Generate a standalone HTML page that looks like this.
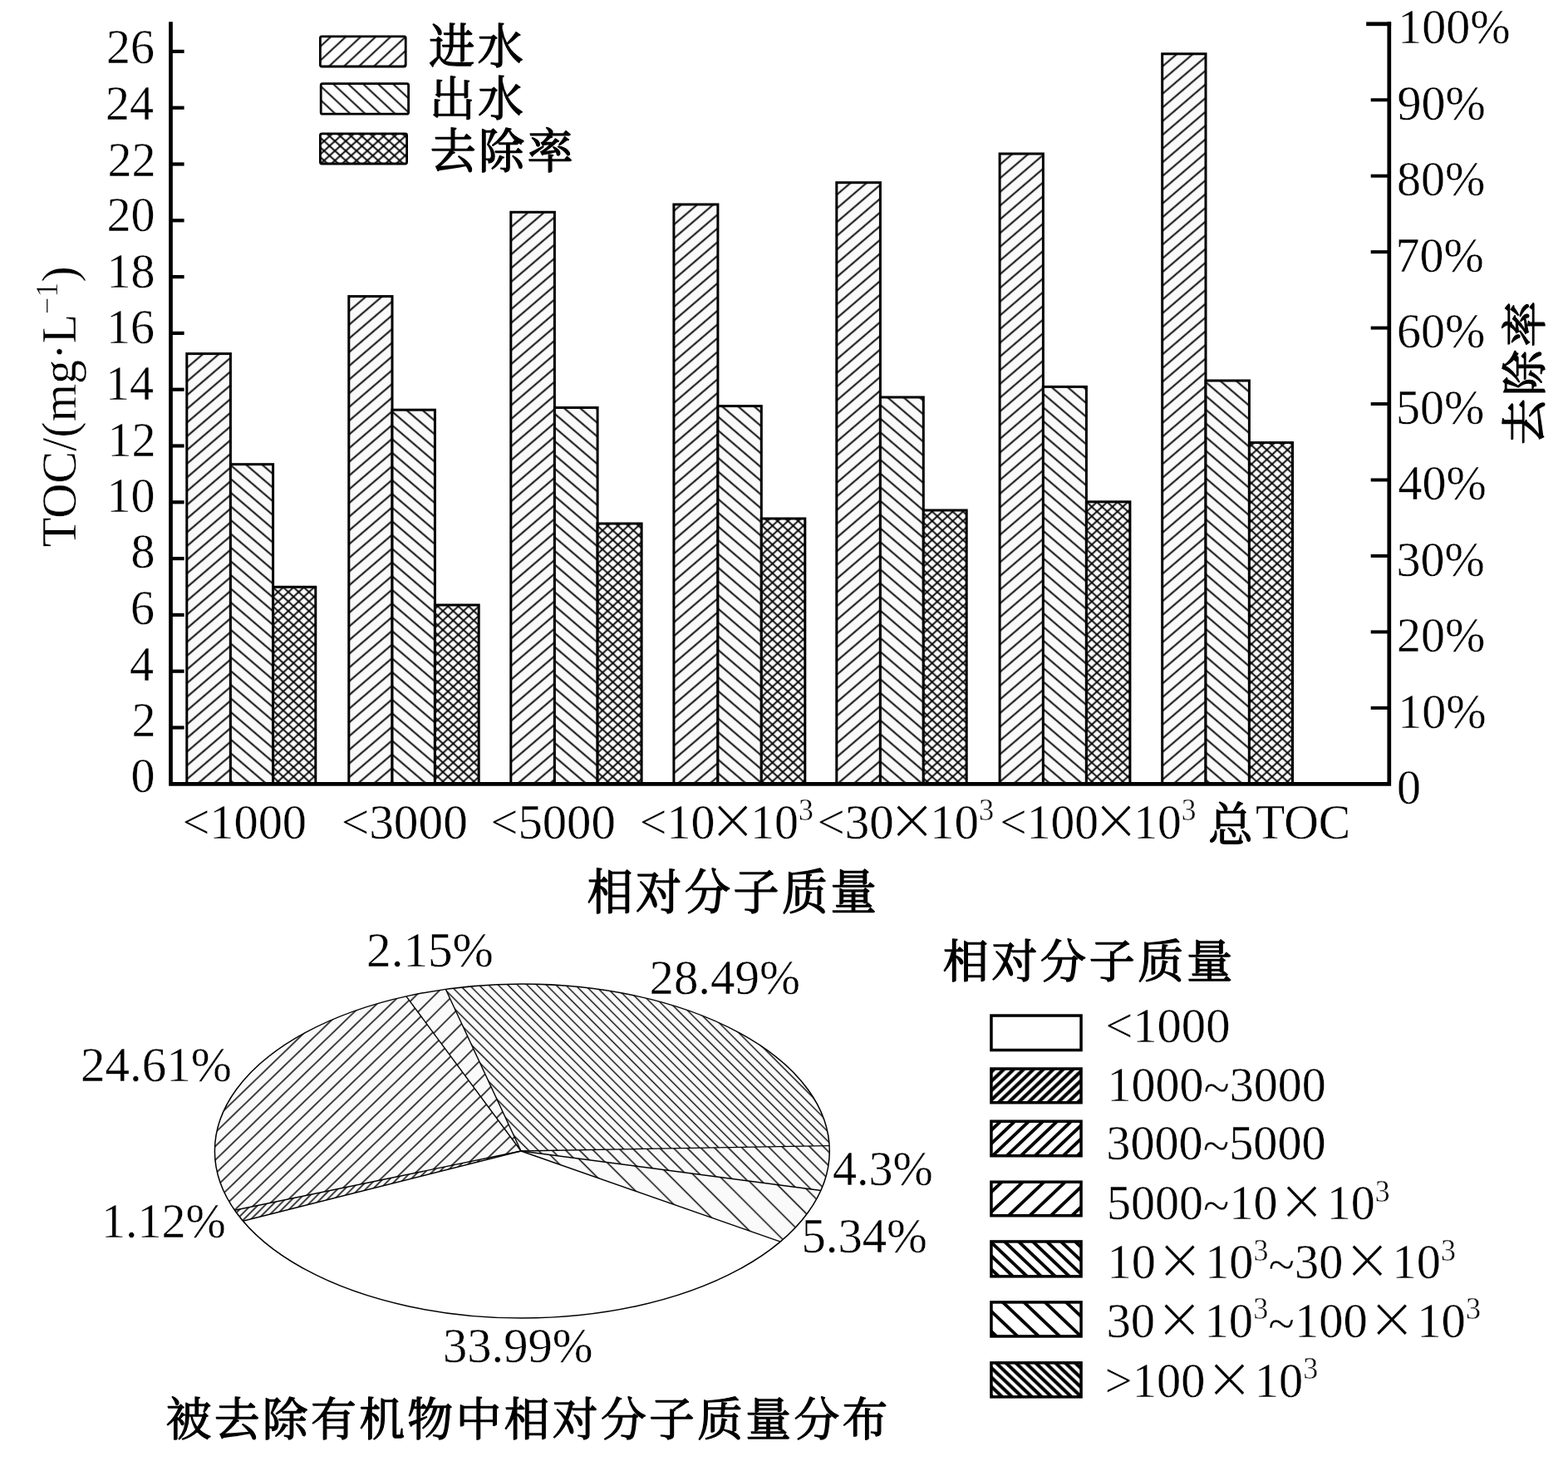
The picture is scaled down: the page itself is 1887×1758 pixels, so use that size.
<!DOCTYPE html>
<html lang="zh">
<head>
<meta charset="utf-8">
<title>TOC 相对分子质量分布</title>
<style>
html,body{margin:0;padding:0;background:#fff;}
body{width:1887px;height:1758px;overflow:hidden;}
svg{display:block;}
text{font-family:"Liberation Serif", "Noto Serif CJK SC", serif;font-size:60px;fill:#000;stroke:#fff;stroke-width:0.4px;}
.c{stroke:#000;stroke-width:1.4px;stroke-linejoin:round;letter-spacing:3.5px;}
</style>
</head>
<body>
<svg width="1887" height="1758" viewBox="0 0 1887 1758">
<defs>
<pattern id="hF" patternUnits="userSpaceOnUse" width="40" height="12.53" patternTransform="rotate(-40.6) translate(0 0)"><line x1="0" y1="6.26" x2="40" y2="6.26" stroke="#000" stroke-width="1.8"/></pattern>
<pattern id="hB" patternUnits="userSpaceOnUse" width="40" height="12.53" patternTransform="rotate(40.6) translate(0 0)"><line x1="0" y1="6.26" x2="40" y2="6.26" stroke="#000" stroke-width="1.8"/></pattern>
<pattern id="hX1" patternUnits="userSpaceOnUse" width="40" height="8.39" patternTransform="rotate(-42.6) translate(0 0)"><line x1="0" y1="4.2" x2="40" y2="4.2" stroke="#000" stroke-width="2"/></pattern>
<pattern id="hX2" patternUnits="userSpaceOnUse" width="40" height="8.39" patternTransform="rotate(42.6) translate(0 0)"><line x1="0" y1="4.2" x2="40" y2="4.2" stroke="#000" stroke-width="2"/></pattern>
<pattern id="lF" patternUnits="userSpaceOnUse" width="40" height="12.28" patternTransform="rotate(-43) translate(0 3)"><line x1="0" y1="6.14" x2="40" y2="6.14" stroke="#000" stroke-width="1.9"/></pattern>
<pattern id="lB" patternUnits="userSpaceOnUse" width="40" height="12.28" patternTransform="rotate(43) translate(0 3)"><line x1="0" y1="6.14" x2="40" y2="6.14" stroke="#000" stroke-width="1.9"/></pattern>
<pattern id="lX1" patternUnits="userSpaceOnUse" width="40" height="8.7" patternTransform="rotate(-42) translate(0 0)"><line x1="0" y1="4.35" x2="40" y2="4.35" stroke="#000" stroke-width="1.8"/></pattern>
<pattern id="lX2" patternUnits="userSpaceOnUse" width="40" height="8.7" patternTransform="rotate(42) translate(0 0)"><line x1="0" y1="4.35" x2="40" y2="4.35" stroke="#000" stroke-width="1.8"/></pattern>
<pattern id="p1" patternUnits="userSpaceOnUse" width="40" height="6" patternTransform="rotate(-45) translate(0 0)"><line x1="0" y1="3" x2="40" y2="3" stroke="#000" stroke-width="1.4"/></pattern>
<pattern id="p2" patternUnits="userSpaceOnUse" width="40" height="11.9" patternTransform="rotate(-44) translate(0 0)"><line x1="0" y1="5.95" x2="40" y2="5.95" stroke="#000" stroke-width="1.4"/></pattern>
<pattern id="p3" patternUnits="userSpaceOnUse" width="40" height="15.7" patternTransform="rotate(-45) translate(0 0)"><line x1="0" y1="7.85" x2="40" y2="7.85" stroke="#000" stroke-width="1.4"/></pattern>
<pattern id="p4" patternUnits="userSpaceOnUse" width="40" height="8.2" patternTransform="rotate(45) translate(0 0)"><line x1="0" y1="4.1" x2="40" y2="4.1" stroke="#000" stroke-width="1.4"/></pattern>
<pattern id="p5" patternUnits="userSpaceOnUse" width="40" height="11.7" patternTransform="rotate(45) translate(0 0)"><line x1="0" y1="5.85" x2="40" y2="5.85" stroke="#000" stroke-width="1.4"/></pattern>
<pattern id="p6" patternUnits="userSpaceOnUse" width="40" height="21" patternTransform="rotate(45) translate(0 0)"><line x1="0" y1="10.5" x2="40" y2="10.5" stroke="#000" stroke-width="1.4"/></pattern>
<pattern id="q1" patternUnits="userSpaceOnUse" width="40" height="8.19" patternTransform="rotate(-43.5) translate(0 0)"><line x1="0" y1="4.1" x2="40" y2="4.1" stroke="#000" stroke-width="4"/></pattern>
<pattern id="q2" patternUnits="userSpaceOnUse" width="40" height="11.7" patternTransform="rotate(-43.5) translate(0 0)"><line x1="0" y1="5.85" x2="40" y2="5.85" stroke="#000" stroke-width="4"/></pattern>
<pattern id="q3" patternUnits="userSpaceOnUse" width="40" height="17.48" patternTransform="rotate(-43.5) translate(0 0)"><line x1="0" y1="8.74" x2="40" y2="8.74" stroke="#000" stroke-width="4"/></pattern>
<pattern id="q4" patternUnits="userSpaceOnUse" width="40" height="11.7" patternTransform="rotate(43.5) translate(0 0)"><line x1="0" y1="5.85" x2="40" y2="5.85" stroke="#000" stroke-width="4"/></pattern>
<pattern id="q5" patternUnits="userSpaceOnUse" width="40" height="17.48" patternTransform="rotate(43.5) translate(0 0)"><line x1="0" y1="8.74" x2="40" y2="8.74" stroke="#000" stroke-width="4"/></pattern>
<pattern id="q6" patternUnits="userSpaceOnUse" width="40" height="8.19" patternTransform="rotate(43.5) translate(0 0)"><line x1="0" y1="4.1" x2="40" y2="4.1" stroke="#000" stroke-width="4"/></pattern>
</defs>
<rect width="1887" height="1758" fill="#fff"/>
<rect x="224.8" y="425.6" width="52.6" height="517.7" fill="#fafafa"/>
<rect x="224.8" y="425.6" width="52.6" height="517.7" fill="url(#hF)"/>
<rect x="224.8" y="425.6" width="52.6" height="517.7" fill="none" stroke="#000" stroke-width="3.0"/>
<rect x="277.4" y="558.7" width="51.2" height="384.6" fill="#fafafa"/>
<rect x="277.4" y="558.7" width="51.2" height="384.6" fill="url(#hB)"/>
<rect x="277.4" y="558.7" width="51.2" height="384.6" fill="none" stroke="#000" stroke-width="3.0"/>
<rect x="328.6" y="706.3" width="51.2" height="237" fill="#fafafa"/>
<rect x="328.6" y="706.3" width="51.2" height="237" fill="url(#hX1)"/>
<rect x="328.6" y="706.3" width="51.2" height="237" fill="url(#hX2)"/>
<rect x="328.6" y="706.3" width="51.2" height="237" fill="none" stroke="#000" stroke-width="3.0"/>
<rect x="419.8" y="356.6" width="52.2" height="586.7" fill="#fafafa"/>
<rect x="419.8" y="356.6" width="52.2" height="586.7" fill="url(#hF)"/>
<rect x="419.8" y="356.6" width="52.2" height="586.7" fill="none" stroke="#000" stroke-width="3.0"/>
<rect x="472" y="493.2" width="51.4" height="450.1" fill="#fafafa"/>
<rect x="472" y="493.2" width="51.4" height="450.1" fill="url(#hB)"/>
<rect x="472" y="493.2" width="51.4" height="450.1" fill="none" stroke="#000" stroke-width="3.0"/>
<rect x="523.4" y="728" width="52.8" height="215.3" fill="#fafafa"/>
<rect x="523.4" y="728" width="52.8" height="215.3" fill="url(#hX1)"/>
<rect x="523.4" y="728" width="52.8" height="215.3" fill="url(#hX2)"/>
<rect x="523.4" y="728" width="52.8" height="215.3" fill="none" stroke="#000" stroke-width="3.0"/>
<rect x="614.8" y="255.3" width="52.6" height="688" fill="#fafafa"/>
<rect x="614.8" y="255.3" width="52.6" height="688" fill="url(#hF)"/>
<rect x="614.8" y="255.3" width="52.6" height="688" fill="none" stroke="#000" stroke-width="3.0"/>
<rect x="667.4" y="490.5" width="51.7" height="452.8" fill="#fafafa"/>
<rect x="667.4" y="490.5" width="51.7" height="452.8" fill="url(#hB)"/>
<rect x="667.4" y="490.5" width="51.7" height="452.8" fill="none" stroke="#000" stroke-width="3.0"/>
<rect x="719.1" y="630" width="53" height="313.3" fill="#fafafa"/>
<rect x="719.1" y="630" width="53" height="313.3" fill="url(#hX1)"/>
<rect x="719.1" y="630" width="53" height="313.3" fill="url(#hX2)"/>
<rect x="719.1" y="630" width="53" height="313.3" fill="none" stroke="#000" stroke-width="3.0"/>
<rect x="810.9" y="246" width="53" height="697.3" fill="#fafafa"/>
<rect x="810.9" y="246" width="53" height="697.3" fill="url(#hF)"/>
<rect x="810.9" y="246" width="53" height="697.3" fill="none" stroke="#000" stroke-width="3.0"/>
<rect x="863.9" y="488.6" width="52.4" height="454.7" fill="#fafafa"/>
<rect x="863.9" y="488.6" width="52.4" height="454.7" fill="url(#hB)"/>
<rect x="863.9" y="488.6" width="52.4" height="454.7" fill="none" stroke="#000" stroke-width="3.0"/>
<rect x="916.3" y="624" width="52.5" height="319.3" fill="#fafafa"/>
<rect x="916.3" y="624" width="52.5" height="319.3" fill="url(#hX1)"/>
<rect x="916.3" y="624" width="52.5" height="319.3" fill="url(#hX2)"/>
<rect x="916.3" y="624" width="52.5" height="319.3" fill="none" stroke="#000" stroke-width="3.0"/>
<rect x="1006.8" y="219.7" width="52.6" height="723.6" fill="#fafafa"/>
<rect x="1006.8" y="219.7" width="52.6" height="723.6" fill="url(#hF)"/>
<rect x="1006.8" y="219.7" width="52.6" height="723.6" fill="none" stroke="#000" stroke-width="3.0"/>
<rect x="1059.4" y="478" width="51.9" height="465.3" fill="#fafafa"/>
<rect x="1059.4" y="478" width="51.9" height="465.3" fill="url(#hB)"/>
<rect x="1059.4" y="478" width="51.9" height="465.3" fill="none" stroke="#000" stroke-width="3.0"/>
<rect x="1111.3" y="614" width="51.9" height="329.3" fill="#fafafa"/>
<rect x="1111.3" y="614" width="51.9" height="329.3" fill="url(#hX1)"/>
<rect x="1111.3" y="614" width="51.9" height="329.3" fill="url(#hX2)"/>
<rect x="1111.3" y="614" width="51.9" height="329.3" fill="none" stroke="#000" stroke-width="3.0"/>
<rect x="1203.1" y="185" width="52.3" height="758.3" fill="#fafafa"/>
<rect x="1203.1" y="185" width="52.3" height="758.3" fill="url(#hF)"/>
<rect x="1203.1" y="185" width="52.3" height="758.3" fill="none" stroke="#000" stroke-width="3.0"/>
<rect x="1255.4" y="465.4" width="52" height="477.9" fill="#fafafa"/>
<rect x="1255.4" y="465.4" width="52" height="477.9" fill="url(#hB)"/>
<rect x="1255.4" y="465.4" width="52" height="477.9" fill="none" stroke="#000" stroke-width="3.0"/>
<rect x="1307.4" y="603.8" width="52.5" height="339.5" fill="#fafafa"/>
<rect x="1307.4" y="603.8" width="52.5" height="339.5" fill="url(#hX1)"/>
<rect x="1307.4" y="603.8" width="52.5" height="339.5" fill="url(#hX2)"/>
<rect x="1307.4" y="603.8" width="52.5" height="339.5" fill="none" stroke="#000" stroke-width="3.0"/>
<rect x="1398.7" y="64.8" width="52.3" height="878.5" fill="#fafafa"/>
<rect x="1398.7" y="64.8" width="52.3" height="878.5" fill="url(#hF)"/>
<rect x="1398.7" y="64.8" width="52.3" height="878.5" fill="none" stroke="#000" stroke-width="3.0"/>
<rect x="1451" y="458" width="52.4" height="485.3" fill="#fafafa"/>
<rect x="1451" y="458" width="52.4" height="485.3" fill="url(#hB)"/>
<rect x="1451" y="458" width="52.4" height="485.3" fill="none" stroke="#000" stroke-width="3.0"/>
<rect x="1503.4" y="532.6" width="52.1" height="410.7" fill="#fafafa"/>
<rect x="1503.4" y="532.6" width="52.1" height="410.7" fill="url(#hX1)"/>
<rect x="1503.4" y="532.6" width="52.1" height="410.7" fill="url(#hX2)"/>
<rect x="1503.4" y="532.6" width="52.1" height="410.7" fill="none" stroke="#000" stroke-width="3.0"/>
<path d="M205.5 26.3 V943.3 H1671.8 V26.3" fill="none" stroke="#000" stroke-width="4.7" stroke-linejoin="miter"/>
<line x1="205.5" y1="61.9" x2="221.6" y2="61.9" stroke="#000" stroke-width="4.2"/>
<line x1="205.5" y1="129.7" x2="221.6" y2="129.7" stroke="#000" stroke-width="4.2"/>
<line x1="205.5" y1="197.5" x2="221.6" y2="197.5" stroke="#000" stroke-width="4.2"/>
<line x1="205.5" y1="265.3" x2="221.6" y2="265.3" stroke="#000" stroke-width="4.2"/>
<line x1="205.5" y1="333.1" x2="221.6" y2="333.1" stroke="#000" stroke-width="4.2"/>
<line x1="205.5" y1="400.9" x2="221.6" y2="400.9" stroke="#000" stroke-width="4.2"/>
<line x1="205.5" y1="468.7" x2="221.6" y2="468.7" stroke="#000" stroke-width="4.2"/>
<line x1="205.5" y1="536.5" x2="221.6" y2="536.5" stroke="#000" stroke-width="4.2"/>
<line x1="205.5" y1="604.3" x2="221.6" y2="604.3" stroke="#000" stroke-width="4.2"/>
<line x1="205.5" y1="672.1" x2="221.6" y2="672.1" stroke="#000" stroke-width="4.2"/>
<line x1="205.5" y1="739.9" x2="221.6" y2="739.9" stroke="#000" stroke-width="4.2"/>
<line x1="205.5" y1="807.7" x2="221.6" y2="807.7" stroke="#000" stroke-width="4.2"/>
<line x1="205.5" y1="875.5" x2="221.6" y2="875.5" stroke="#000" stroke-width="4.2"/>
<line x1="1644.2" y1="28.8" x2="1674.15" y2="28.8" stroke="#000" stroke-width="4.8"/>
<line x1="1649.7" y1="120.25" x2="1671.8" y2="120.25" stroke="#000" stroke-width="4.0"/>
<line x1="1649.7" y1="211.7" x2="1671.8" y2="211.7" stroke="#000" stroke-width="4.0"/>
<line x1="1649.7" y1="303.15" x2="1671.8" y2="303.15" stroke="#000" stroke-width="4.0"/>
<line x1="1649.7" y1="394.6" x2="1671.8" y2="394.6" stroke="#000" stroke-width="4.0"/>
<line x1="1649.7" y1="486.05" x2="1671.8" y2="486.05" stroke="#000" stroke-width="4.0"/>
<line x1="1649.7" y1="577.5" x2="1671.8" y2="577.5" stroke="#000" stroke-width="4.0"/>
<line x1="1649.7" y1="668.95" x2="1671.8" y2="668.95" stroke="#000" stroke-width="4.0"/>
<line x1="1649.7" y1="760.4" x2="1671.8" y2="760.4" stroke="#000" stroke-width="4.0"/>
<line x1="1649.7" y1="851.85" x2="1671.8" y2="851.85" stroke="#000" stroke-width="4.0"/>
<rect x="385.4" y="43.8" width="102.8" height="36.2" fill="url(#lF)"/>
<rect x="385.4" y="43.8" width="102.8" height="36.2" rx="2" fill="none" stroke="#000" stroke-width="2.8"/>
<rect x="386.2" y="100.7" width="105.4" height="36.5" fill="url(#lB)"/>
<rect x="386.2" y="100.7" width="105.4" height="36.5" rx="2" fill="none" stroke="#000" stroke-width="2.8"/>
<rect x="385.4" y="160.8" width="104.2" height="36.2" fill="url(#lX1)"/>
<rect x="385.4" y="160.8" width="104.2" height="36.2" fill="url(#lX2)"/>
<rect x="385.4" y="160.8" width="104.2" height="36.2" rx="2" fill="none" stroke="#000" stroke-width="2.8"/>
<ellipse cx="628.35" cy="1385.05" rx="369.95" ry="201.05" fill="#fff" stroke="none"/>
<path d="M627 1385 L292.45 1469.3 A369.95 201.05 0 0 1 282.38 1456.26 Z" fill="#fafafa"/>
<path d="M627 1385 L292.45 1469.3 A369.95 201.05 0 0 1 282.38 1456.26 Z" fill="url(#p1)"/>
<path d="M627 1385 L282.38 1456.26 A369.95 201.05 0 0 1 488.88 1198.83 Z" fill="#fafafa"/>
<path d="M627 1385 L282.38 1456.26 A369.95 201.05 0 0 1 488.88 1198.83 Z" fill="url(#p2)"/>
<path d="M627 1385 L488.88 1198.83 A369.95 201.05 0 0 1 536.3 1190.32 Z" fill="#fafafa"/>
<path d="M627 1385 L488.88 1198.83 A369.95 201.05 0 0 1 536.3 1190.32 Z" fill="url(#p3)"/>
<path d="M627 1385 L536.3 1190.32 A369.95 201.05 0 0 1 998.11 1378.58 Z" fill="#fafafa"/>
<path d="M627 1385 L536.3 1190.32 A369.95 201.05 0 0 1 998.11 1378.58 Z" fill="url(#p4)"/>
<path d="M627 1385 L998.11 1378.58 A369.95 201.05 0 0 1 987.87 1432.45 Z" fill="#fafafa"/>
<path d="M627 1385 L998.11 1378.58 A369.95 201.05 0 0 1 987.87 1432.45 Z" fill="url(#p5)"/>
<path d="M627 1385 L987.87 1432.45 A369.95 201.05 0 0 1 939.11 1494.14 Z" fill="#fafafa"/>
<path d="M627 1385 L987.87 1432.45 A369.95 201.05 0 0 1 939.11 1494.14 Z" fill="url(#p6)"/>
<line x1="627" y1="1385" x2="939.11" y2="1494.14" stroke="#000" stroke-width="1.4"/>
<line x1="627" y1="1385" x2="292.45" y2="1469.3" stroke="#000" stroke-width="1.4"/>
<line x1="627" y1="1385" x2="282.38" y2="1456.26" stroke="#000" stroke-width="1.4"/>
<line x1="627" y1="1385" x2="488.88" y2="1198.83" stroke="#000" stroke-width="1.4"/>
<line x1="627" y1="1385" x2="536.3" y2="1190.32" stroke="#000" stroke-width="1.4"/>
<line x1="627" y1="1385" x2="998.11" y2="1378.58" stroke="#000" stroke-width="1.4"/>
<line x1="627" y1="1385" x2="987.87" y2="1432.45" stroke="#000" stroke-width="1.4"/>
<ellipse cx="628.35" cy="1385.05" rx="369.95" ry="201.05" fill="none" stroke="#000" stroke-width="1.5"/>
<rect x="1192.95" y="1222.05" width="108.1" height="41.5" fill="none" stroke="#000" stroke-width="3.5"/>
<rect x="1192.95" y="1286.05" width="108.1" height="40.7" fill="url(#q1)"/>
<rect x="1192.95" y="1286.05" width="108.1" height="40.7" fill="none" stroke="#000" stroke-width="3.5"/>
<rect x="1192.95" y="1349.25" width="108.1" height="41.5" fill="url(#q2)"/>
<rect x="1192.95" y="1349.25" width="108.1" height="41.5" fill="none" stroke="#000" stroke-width="3.5"/>
<rect x="1192.95" y="1422.25" width="108.1" height="40.5" fill="url(#q3)"/>
<rect x="1192.95" y="1422.25" width="108.1" height="40.5" fill="none" stroke="#000" stroke-width="3.5"/>
<rect x="1192.95" y="1493.95" width="108.1" height="41.9" fill="url(#q4)"/>
<rect x="1192.95" y="1493.95" width="108.1" height="41.9" fill="none" stroke="#000" stroke-width="3.5"/>
<rect x="1192.95" y="1566.95" width="108.1" height="41" fill="url(#q5)"/>
<rect x="1192.95" y="1566.95" width="108.1" height="41" fill="none" stroke="#000" stroke-width="3.5"/>
<rect x="1192.95" y="1639.85" width="108.1" height="41" fill="url(#q6)"/>
<rect x="1192.95" y="1639.85" width="108.1" height="41" fill="none" stroke="#000" stroke-width="3.5"/>
<text transform="matrix(0.9670 0 0 1.0000 128.01 76.10)">26</text>
<text transform="matrix(0.9670 0 0 1.0000 127.05 144.05)">24</text>
<text transform="matrix(0.9670 0 0 1.0000 129.46 211.50)">22</text>
<text transform="matrix(0.9670 0 0 1.0000 128.50 278.45)">20</text>
<text transform="matrix(0.9670 0 0 1.0000 128.50 345.90)">18</text>
<text transform="matrix(0.9670 0 0 1.0000 128.01 413.35)">16</text>
<text transform="matrix(0.9670 0 0 1.0000 127.05 481.30)">14</text>
<text transform="matrix(0.9670 0 0 1.0000 129.46 548.75)">12</text>
<text transform="matrix(0.9670 0 0 1.0000 128.50 615.70)">10</text>
<text transform="matrix(0.9670 0 0 1.0000 157.51 683.15)">8</text>
<text transform="matrix(0.9670 0 0 1.0000 157.02 750.60)">6</text>
<text transform="matrix(0.9670 0 0 1.0000 156.06 818.55)">4</text>
<text transform="matrix(0.9670 0 0 1.0000 158.47 886.00)">2</text>
<text transform="matrix(0.9670 0 0 1.0000 157.51 952.95)">0</text>
<text transform="matrix(0.9670 0 0 1.0000 1682.28 52.10)">100%</text>
<text transform="matrix(0.9670 0 0 1.0000 1681.47 143.61)">90%</text>
<text transform="matrix(0.9670 0 0 1.0000 1680.98 235.12)">80%</text>
<text transform="matrix(0.9670 0 0 1.0000 1679.53 326.63)">70%</text>
<text transform="matrix(0.9670 0 0 1.0000 1680.98 418.14)">60%</text>
<text transform="matrix(0.9670 0 0 1.0000 1680.02 509.65)">50%</text>
<text transform="matrix(0.9670 0 0 1.0000 1682.43 601.16)">40%</text>
<text transform="matrix(0.9670 0 0 1.0000 1680.50 692.67)">30%</text>
<text transform="matrix(0.9670 0 0 1.0000 1680.98 784.18)">20%</text>
<text transform="matrix(0.9670 0 0 1.0000 1682.28 875.69)">10%</text>
<text transform="matrix(0.9670 0 0 1.0000 1680.98 967.20)">0</text>
<text transform="matrix(0.9731 0 0 1.0000 219.38 1008.80)">&lt;1000</text>
<text transform="matrix(0.9892 0 0 1.0000 410.73 1008.80)">&lt;3000</text>
<text transform="matrix(0.9791 0 0 1.0000 590.26 1008.80)">&lt;5000</text>
<text transform="matrix(0.9660 0 0 1.0000 769.80 1008.80)">&lt;10<tspan font-family='"Noto Serif CJK SC", "Liberation Serif", serif' font-size="58" stroke="#000" stroke-width="0.7" dx="-7">×</tspan><tspan dx="-7">10</tspan><tspan font-size="37" dy="-21.5">3</tspan></text>
<text transform="matrix(0.9840 0 0 1.0000 983.45 1008.80)">&lt;30<tspan font-family='"Noto Serif CJK SC", "Liberation Serif", serif' font-size="58" stroke="#000" stroke-width="0.7" dx="-7">×</tspan><tspan dx="-7">10</tspan><tspan font-size="37" dy="-21.5">3</tspan></text>
<text transform="matrix(0.9591 0 0 1.0000 1203.22 1008.80)">&lt;100<tspan font-family='"Noto Serif CJK SC", "Liberation Serif", serif' font-size="58" stroke="#000" stroke-width="0.7" dx="-7">×</tspan><tspan dx="-7">10</tspan><tspan font-size="37" dy="-21.5">3</tspan></text>
<text transform="matrix(0.9601 0 0 1.0000 1453.88 1008.80)"><tspan class="c" font-size="56" dy="3.3">总</tspan><tspan dy="-3.3">TOC</tspan></text>
<text class="c" transform="matrix(0.9231 0 0 0.9632 706.48 1093.90)">相对分子质量</text>
<text transform="matrix(0 -0.9704 1.0000 0 90.70 658.27)">TOC/(mg·L<tspan font-size="37" dy="-21.5">−1</tspan><tspan dy="21.5">)</tspan></text>
<text class="c" transform="matrix(0 -0.9262 0.9123 0 1854.28 535.35)">去除率</text>
<text class="c" transform="matrix(0.9235 0 0 0.9451 515.88 75.80)">进水</text>
<text class="c" transform="matrix(0.9136 0 0 0.9451 517.09 138.80)">出水</text>
<text class="c" transform="matrix(0.9224 0 0 0.9544 517.46 201.75)">去除率</text>
<text transform="matrix(0.9867 0 0 1.0000 441.03 1162.80)">2.15%</text>
<text transform="matrix(0.9834 0 0 1.0000 97.04 1301.30)">24.61%</text>
<text transform="matrix(0.9675 0 0 1.0000 121.98 1489.20)">1.12%</text>
<text transform="matrix(0.9750 0 0 1.0000 533.08 1638.60)">33.99%</text>
<text transform="matrix(0.9806 0 0 1.0000 781.55 1196.20)">28.49%</text>
<text transform="matrix(0.9672 0 0 1.0000 1002.03 1425.60)">4.3%</text>
<text transform="matrix(0.9779 0 0 1.0000 964.38 1506.90)">5.34%</text>
<text class="c" transform="matrix(0.9160 0 0 0.9123 199.58 1726.68)">被去除有机物中相对分子质量分布</text>
<text class="c" transform="matrix(0.9244 0 0 0.9123 1134.48 1175.98)">相对分子质量</text>
<text transform="matrix(0.9771 0 0 1.0000 1330.17 1254.30)">&lt;1000</text>
<text transform="matrix(0.9656 0 0 1.0000 1332.59 1324.70)">1000<tspan dy="4">~</tspan><tspan dy="-4">3000</tspan></text>
<text transform="matrix(0.9704 0 0 1.0000 1331.29 1394.70)">3000<tspan dy="4">~</tspan><tspan dy="-4">5000</tspan></text>
<text transform="matrix(0.9683 0 0 1.0000 1331.91 1467.20)">5000<tspan dy="4">~</tspan><tspan dy="-4">10</tspan><tspan font-family='"Noto Serif CJK SC", "Liberation Serif", serif' font-size="58" stroke="#000" stroke-width="0.7" dx="1">×</tspan><tspan dx="2">10</tspan><tspan font-size="37" dy="-21.5">3</tspan></text>
<text transform="matrix(0.9720 0 0 1.0000 1332.55 1538.00)">10<tspan font-family='"Noto Serif CJK SC", "Liberation Serif", serif' font-size="58" stroke="#000" stroke-width="0.7" dx="1">×</tspan><tspan dx="2">10</tspan><tspan font-size="37" dy="-21.5">3</tspan><tspan dy="25.5">~</tspan><tspan dy="-4">30</tspan><tspan font-family='"Noto Serif CJK SC", "Liberation Serif", serif' font-size="58" stroke="#000" stroke-width="0.7" dx="1">×</tspan><tspan dx="2">10</tspan><tspan font-size="37" dy="-21.5">3</tspan></text>
<text transform="matrix(0.9764 0 0 1.0000 1331.47 1608.80)">30<tspan font-family='"Noto Serif CJK SC", "Liberation Serif", serif' font-size="58" stroke="#000" stroke-width="0.7" dx="1">×</tspan><tspan dx="2">10</tspan><tspan font-size="37" dy="-21.5">3</tspan><tspan dy="25.5">~</tspan><tspan dy="-4">100</tspan><tspan font-family='"Noto Serif CJK SC", "Liberation Serif", serif' font-size="58" stroke="#000" stroke-width="0.7" dx="1">×</tspan><tspan dx="2">10</tspan><tspan font-size="37" dy="-21.5">3</tspan></text>
<text transform="matrix(0.9741 0 0 1.0000 1329.78 1680.50)">&gt;100<tspan font-family='"Noto Serif CJK SC", "Liberation Serif", serif' font-size="58" stroke="#000" stroke-width="0.7" dx="1">×</tspan><tspan dx="2">10</tspan><tspan font-size="37" dy="-21.5">3</tspan></text>
</svg>
</body>
</html>
